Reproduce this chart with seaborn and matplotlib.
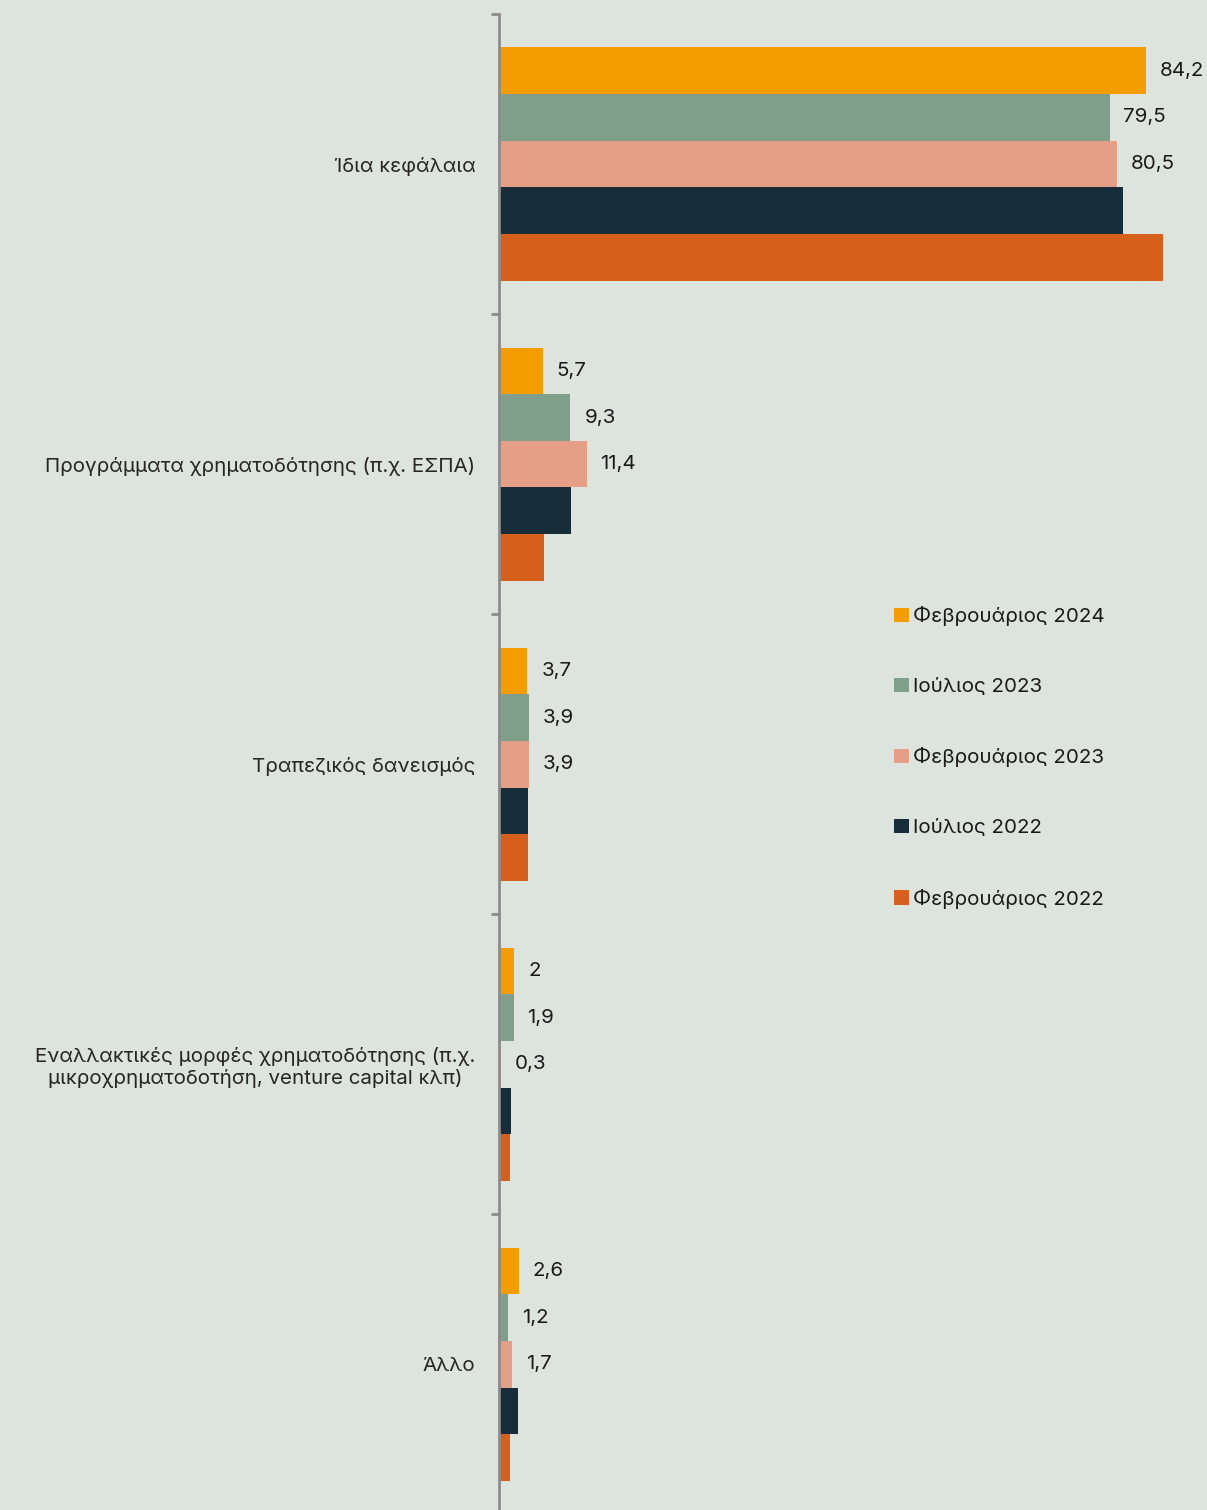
import matplotlib.pyplot as plt
import seaborn as sns
import pandas as pd

# categories (top to bottom) and survey rounds
categories = [
    "Ίδια κεφάλαια",
    "Προγράμματα χρηματοδότησης (π.χ. ΕΣΠΑ)",
    "Τραπεζικός δανεισμός",
    "Εναλλακτικές μορφές χρηματοδότησης (π.χ.\nμικροχρηματοδοτήση, venture capital κλπ)",
    "Άλλο",
]
periods = ["Φεβρουάριος 2024", "Ιούλιος 2023", "Φεβρουάριος 2023",
           "Ιούλιος 2022", "Φεβρουάριος 2022"]

feb_2024 = [84.2, 5.7, 3.7, 2.0, 2.6]
jul_2023 = [79.5, 9.3, 3.9, 1.9, 1.2]
feb_2023 = [80.5, 11.4, 3.9, 0.3, 1.7]
jul_2022 = [81.3, 9.4, 3.8, 1.5, 2.5]   # no labels in the source
feb_2022 = [86.4, 5.9, 3.8, 1.4, 1.4]

colors = ["#F49D00", "#7F9F8B", "#E59F87", "#172E3A", "#D65F1B"]
bg = "#DDE3DD"

rows = []
for p, vals in zip(periods, [feb_2024, jul_2023, feb_2023, jul_2022, feb_2022]):
    for c, v in zip(categories, vals):
        rows.append({"cat": c, "period": p, "value": v})
df = pd.DataFrame(rows)

sns.set_style("white")
plt.rcParams['font.family'] = ['Inter', 'DejaVu Sans']
plt.rcParams['text.color'] = '#1a1a1a'
fs = 14.8

fig = plt.figure(figsize=(12.07, 15.10), dpi=100, facecolor=bg)
ax = fig.add_axes([499 / 1207, 0, 1 - 499 / 1207, 1 - 14 / 1510])
ax.set_facecolor(bg)

sns.barplot(data=df, x="value", y="cat", hue="period", order=categories,
            hue_order=periods, palette=colors, orient="h", width=0.777,
            gap=0, ax=ax, legend=True, saturation=1, edgecolor="none")

# value labels only for the three latest rounds
for cont, p in zip(ax.containers, periods):
    if p in periods[:3]:
        labels = [("%g" % v).replace(".", ",") for v in cont.datavalues]
        ax.bar_label(cont, labels=labels, padding=10, fontsize=fs)

ax.set_xlim(0, (1207 - 499) / 7.68)
ax.set_ylim(-0.5 + 1496 / 300.1, -0.5)
ax.set_xlabel("")
ax.set_ylabel("")
ax.set_xticks([])
for s in ["top", "right", "bottom"]:
    ax.spines[s].set_visible(False)
ax.spines["left"].set_color("#8c8c8c")
ax.spines["left"].set_linewidth(2)

ax.set_yticks(range(len(categories)))
ax.set_yticklabels(categories, fontsize=fs)
ax.tick_params(axis="y", which="major", length=0, pad=17)
for lab in ax.get_yticklabels():
    lab.set_multialignment("center")
ax.set_yticks([-0.5, 0.5, 1.5, 2.5, 3.5], minor=True)
ax.tick_params(axis="y", which="minor", left=True, length=6, width=2,
               color="#8c8c8c")

leg = ax.legend(loc="upper left", bbox_to_anchor=((886 - 499) / 708, 1 - 584 / 1496),
                frameon=False, fontsize=fs, handlelength=0.7, handleheight=0.7,
                handletextpad=0.2, labelspacing=2.5, borderaxespad=0)

fig.savefig("out.png", dpi=100, facecolor=bg)
